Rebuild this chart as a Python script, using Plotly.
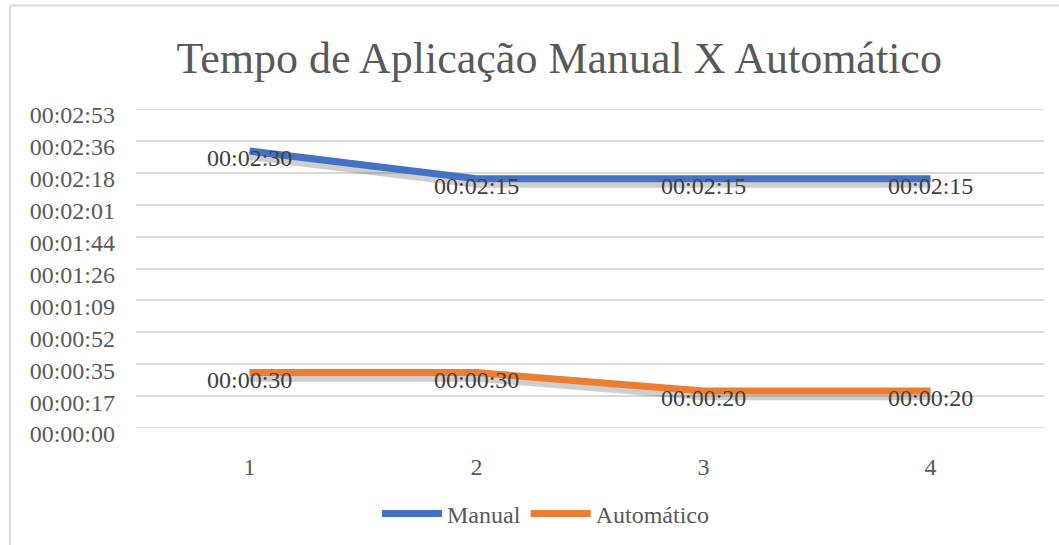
import plotly.graph_objects as go

# ---- data ----
categories = [1, 2, 3, 4]
manual_seconds = [150, 135, 135, 135]
auto_seconds = [30, 30, 20, 20]
manual_labels = ["00:02:30", "00:02:15", "00:02:15", "00:02:15"]
auto_labels = ["00:00:30", "00:00:30", "00:00:20", "00:00:20"]
y_tick_seconds = [0, 17.28, 34.56, 51.84, 69.12, 86.4, 103.68, 120.96, 138.24, 155.52, 172.8]
y_tick_labels = ["00:00:00", "00:00:17", "00:00:35", "00:00:52", "00:01:09", "00:01:26",
                 "00:01:44", "00:02:01", "00:02:18", "00:02:36", "00:02:53"]
x_tick_labels = ["1", "2", "3", "4"]

FONT = "Liberation Serif, Times New Roman, Times, serif"
TXT = "#595959"
BLUE = "#4472C4"
ORANGE = "#ED7D31"
GRID = "#d9d9d9"
SHADOW_OFFSET = 2.2  # seconds, visual drop-shadow offset

fig = go.Figure()

# drop shadows
for ys in (manual_seconds, auto_seconds):
    fig.add_trace(go.Scatter(
        x=categories, y=[v - SHADOW_OFFSET for v in ys], mode="lines",
        line=dict(color="rgba(60,60,60,0.25)", width=10), showlegend=False, hoverinfo="skip"))

fig.add_trace(go.Scatter(x=categories, y=manual_seconds, mode="lines", name="Manual",
                         line=dict(color=BLUE, width=7)))
fig.add_trace(go.Scatter(x=categories, y=auto_seconds, mode="lines", name="Automático",
                         line=dict(color=ORANGE, width=7)))

for xs, ys, labs in ((categories, manual_seconds, manual_labels), (categories, auto_seconds, auto_labels)):
    for xv, yv, lab in zip(xs, ys, labs):
        fig.add_annotation(x=xv, y=yv, text=lab, showarrow=False, yshift=-7,
                           font=dict(family=FONT, size=24, color="#404040"))

L, R, T, B = 136, 15, 109, 117
W, H = 1059, 545
pw, ph = W - L - R, H - T - B
bx = (10 - L) / pw
by = (H - B - 5.5) / ph

# end gridlines (Plotly clips gridlines at the plot edges)
end_grid = [dict(type="line", xref="paper", yref="y", x0=0, x1=1, y0=v, y1=v, layer="below",
                 line=dict(color=GRID, width=1.5))
            for v in (y_tick_seconds[0], y_tick_seconds[-1])]

fig.update_layout(
    width=W, height=H,
    margin=dict(l=L, r=R, t=T, b=B),
    paper_bgcolor="white", plot_bgcolor="white",
    font=dict(family=FONT, color=TXT, size=24),
    title=dict(text="Tempo de Aplicação Manual X Automático", x=0.528, xanchor="center",
               y=1 - 58 / H, yanchor="middle", yref="container",
               font=dict(family=FONT, size=44, color=TXT)),
    xaxis=dict(range=[0.5, 4.5], tickvals=categories, ticktext=x_tick_labels, showgrid=False,
               zeroline=False, showline=False, ticklabelstandoff=22,
               tickfont=dict(family=FONT, size=24, color=TXT)),
    yaxis=dict(range=[y_tick_seconds[0], y_tick_seconds[-1]], tickvals=y_tick_seconds,
               ticktext=y_tick_labels,
               showgrid=True, gridcolor=GRID, gridwidth=1.5, zeroline=False,
               ticklabelstandoff=20, ticklabelshift=6,
               tickfont=dict(family=FONT, size=24, color=TXT)),
    legend=dict(orientation="h", x=0.451, xanchor="center", yref="container",
                y=1 - 514 / H, yanchor="middle",
                font=dict(family=FONT, size=24, color=TXT), itemwidth=60),
    shapes=end_grid + [
        dict(type="line", xref="paper", yref="paper", x0=bx, x1=1.2, y0=by, y1=by,
             line=dict(color=GRID, width=2)),
        dict(type="line", xref="paper", yref="paper", x0=bx, x1=bx, y0=by, y1=-0.6,
             line=dict(color=GRID, width=2)),
    ],
)

fig.write_html("out.html", config={"displayModeBar": False},
               post_script="document.body.style.margin='0';")
